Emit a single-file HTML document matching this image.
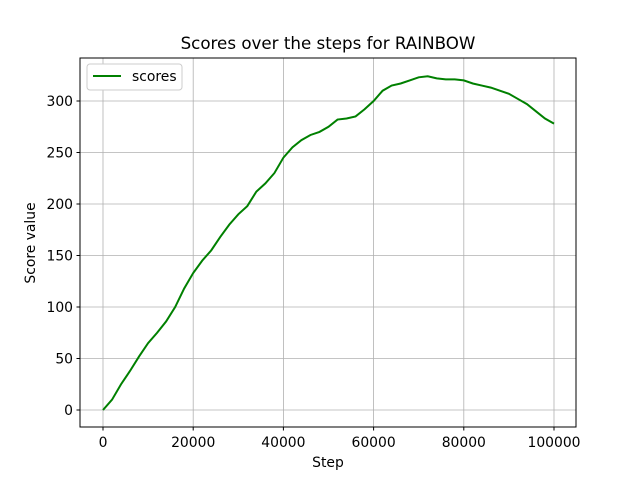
<!DOCTYPE html>
<html><head><meta charset="utf-8"><style>body{margin:0;background:#fff}svg{display:block}text{font-family:"DejaVu Sans","Liberation Sans",sans-serif;fill:#000}</style></head>
<body>
<svg id="chart" width="640" height="480">
<rect width="640" height="480" fill="#fff"/>
<text x="328" y="49" font-size="16.7" text-anchor="middle">Scores over the steps for RAINBOW</text>
<g id="grid"></g>
<g id="ticks"></g>
<path id="line" fill="none" stroke="#008000" stroke-width="2"/>
<rect x="80" y="58" width="496" height="369" fill="none" stroke="#000" stroke-width="1"/>
<text x="328" y="467" font-size="13.9" text-anchor="middle">Step</text>
<text x="35" y="243" font-size="13.9" text-anchor="middle" transform="rotate(-90 35 243)">Score value</text>
<g>
<rect x="87" y="64" width="95" height="26" rx="3" fill="#fff" stroke="#ccc"/>
<line x1="93" y1="76" x2="121" y2="76" stroke="#008000" stroke-width="2"/>
<text x="132" y="81" font-size="13.9">scores</text>
</g>
</svg>
<script>
const steps = [0,2000,4000,6000,8000,10000,12000,14000,16000,18000,20000,22000,24000,26000,28000,30000,32000,34000,36000,38000,40000,42000,44000,46000,48000,50000,52000,54000,56000,58000,60000,62000,64000,66000,68000,70000,72000,74000,76000,78000,80000,82000,84000,86000,88000,90000,92000,94000,96000,98000,100000];
const scores = [0,10,25,38,52,65,75,86,100,118,133,145,155,168,180,190,198,212,220,230,245,255,262,267,270,275,282,283,285,292,300,310,315,317,320,323,324,322,321,321,320,317,315,313,310,307,302,297,290,283,278];
const xTicks = [0,20000,40000,60000,80000,100000];
const yTicks = [0,50,100,150,200,250,300];
const NS='http://www.w3.org/2000/svg';
function xs(v){return 103+v*(554-103)/100000;}
function ys(v){return 410-v*(410-101)/300;}
const grid=document.getElementById('grid'), ticks=document.getElementById('ticks');
function mk(t,a,p){const e=document.createElementNS(NS,t);for(const k in a)e.setAttribute(k,a[k]);p.appendChild(e);return e;}
xTicks.forEach(v=>{const x=xs(v);
 const g=mk('line',{x1:x,x2:x,y1:58,y2:427,stroke:'#b0b0b0','stroke-width':0.8},grid);
 
 
 mk('line',{x1:x,x2:x,y1:427,y2:430.5,stroke:'#000'},ticks);
 const t=mk('text',{x:x,y:447,'font-size':13.9,'text-anchor':'middle'},ticks);t.textContent=v;
 
 });
yTicks.forEach(v=>{const y=ys(v);
 const g=mk('line',{x1:80,x2:576,y1:y,y2:y,stroke:'#b0b0b0','stroke-width':0.8},grid);
 
 
 mk('line',{x1:76.5,x2:80,y1:y,y2:y,stroke:'#000'},ticks);
 const t=mk('text',{x:73,y:y+5,'font-size':13.9,'text-anchor':'end'},ticks);t.textContent=v;
 
 });
document.getElementById('line').setAttribute('d',steps.map((s,i)=>(i?'L':'M')+xs(s)+' '+ys(scores[i])).join(' '));
</script>
</body></html>
